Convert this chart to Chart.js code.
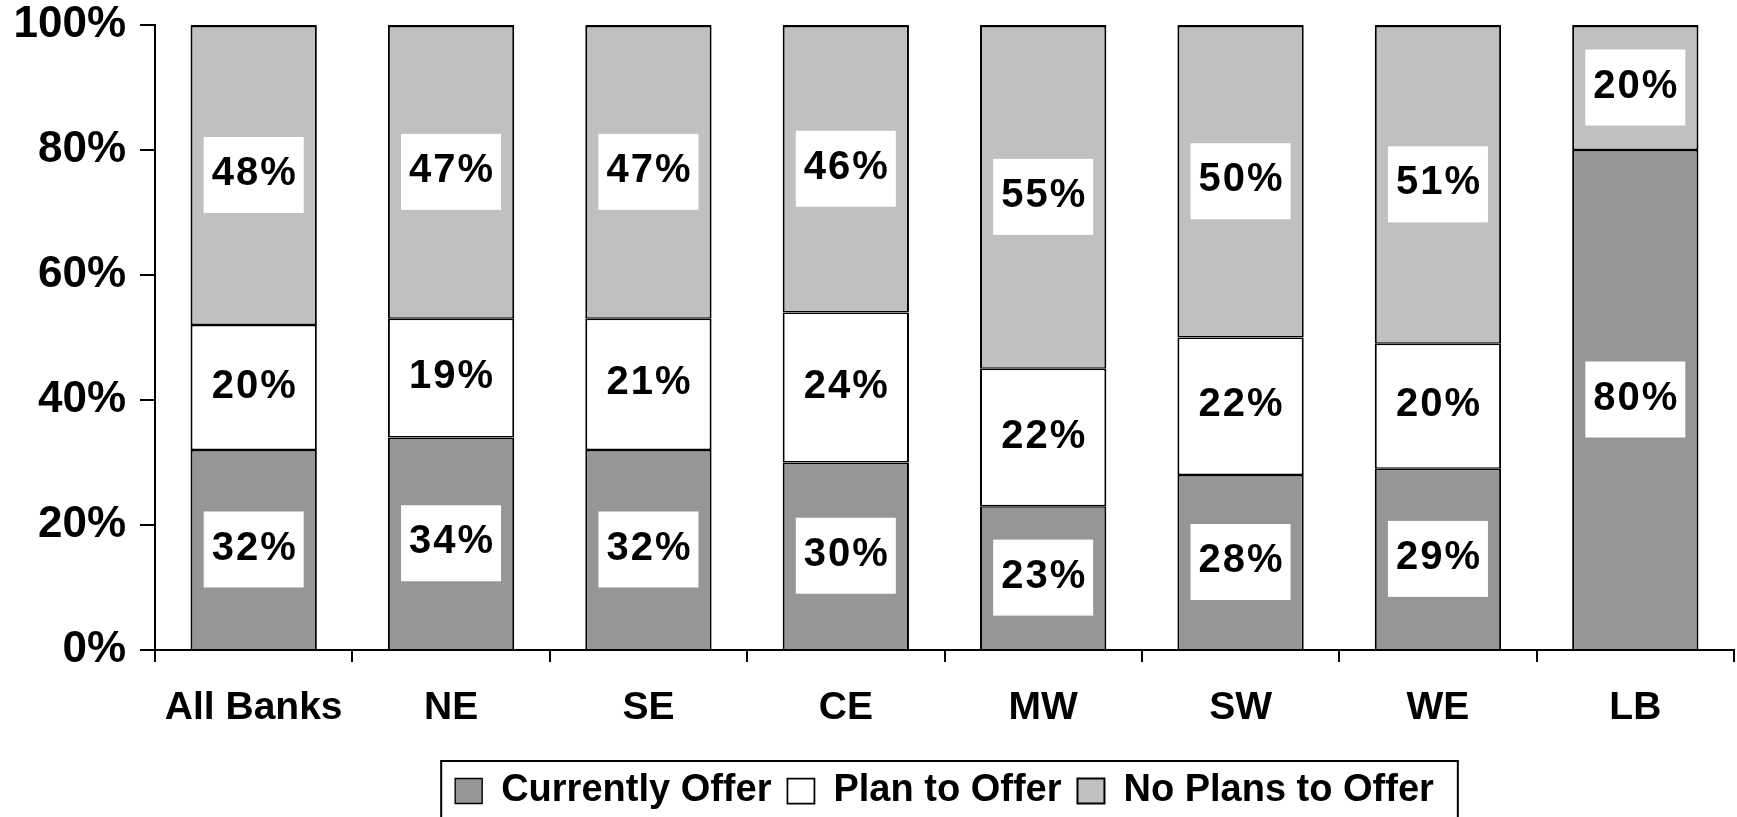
<!DOCTYPE html>
<html>
<head>
<meta charset="utf-8">
<script src="https://cdn.jsdelivr.net/npm/chart.js@4.4.1/dist/chart.umd.min.js"></script>
<style>
  body { margin: 0; background: #fff; }
</style>
</head>
<body>
<canvas id="grafico" width="1737" height="817"></canvas>
<script>
// datos
const regiones = ["All Banks", "NE", "SE", "CE", "MW", "SW", "WE", "LB"];
const ofrecenHoy = [32, 34, 32, 30, 23, 28, 29, 80];
const planean = [20, 19, 21, 24, 22, 22, 20, 0];
const sinPlanes = [48, 47, 47, 46, 55, 50, 51, 20];
const nombresSeries = ["Currently Offer", "Plan to Offer", "No Plans to Offer"];
const ticksY = [0, 20, 40, 60, 80, 100];

const fuente = "'Liberation Sans', Arial, sans-serif";

// cajitas blancas con el porcentaje
const etiquetas = {
    id: "etiquetas",
    afterDatasetsDraw(chart) {
        const ctx = chart.ctx;
        ctx.save();
        ctx.font = "bold 40px " + fuente;
        ctx.letterSpacing = "2px";
        ctx.textAlign = "center";
        ctx.textBaseline = "alphabetic";
        chart.data.datasets.forEach((ds, i) => {
            const meta = chart.getDatasetMeta(i);
            meta.data.forEach((bar, j) => {
                const v = ds.data[j];
                if (!v) return;
                const cy = (bar.y + bar.base) / 2;
                ctx.fillStyle = "#ffffff";
                ctx.fillRect(bar.x - 50, cy - 38, 100, 76);
                ctx.fillStyle = "#000000";
                ctx.fillText(v + "%", bar.x + 1, cy + 10);
            });
        });
        ctx.restore();
    }
};

// marco de la leyenda
const marcoLeyenda = {
    id: "marcoLeyenda",
    afterDraw(chart) {
        const cajas = chart.legend.legendHitBoxes;
        if (!cajas || !cajas.length) return;
        const izq = Math.min(...cajas.map(c => c.left));
        const der = Math.max(...cajas.map(c => c.left + c.width));
        const cy = cajas[0].top + cajas[0].height / 2;
        const ctx = chart.ctx;
        ctx.save();
        ctx.strokeStyle = "#000";
        ctx.lineWidth = 2;
        ctx.strokeRect(izq - 14, cy - 30, der - izq + 38, 80);
        ctx.restore();
    }
};

const borde = "#000000";
const ctx = document.getElementById("grafico").getContext("2d");

const myChart = new Chart(ctx, {
    type: "bar",
    data: {
        labels: regiones,
        datasets: [{
            label: nombresSeries[0],
            data: ofrecenHoy,
            backgroundColor: "#969696",
            borderColor: borde,
            borderWidth: { top: 1.5, bottom: 0, left: 2, right: 2 }
        }, {
            label: nombresSeries[1],
            data: planean,
            backgroundColor: "#ffffff",
            borderColor: borde,
            borderWidth: { top: 1.5, bottom: 1.5, left: 2, right: 2 }
        }, {
            label: nombresSeries[2],
            data: sinPlanes,
            backgroundColor: "#c0c0c0",
            borderColor: borde,
            borderWidth: { top: 2.5, bottom: 1.5, left: 2, right: 2 }
        }]
    },
    options: {
        responsive: false,
        animation: false,
        layout: { padding: { top: 25, right: 3, left: 0, bottom: -3 } },
        datasets: {
            bar: {
                categoryPercentage: 1,
                barPercentage: 0.64,
                borderSkipped: false
            }
        },
        scales: {
            x: {
                stacked: true,
                grid: {
                    offset: true,
                    drawOnChartArea: false,
                    tickLength: 12,
                    color: "#000",
                    lineWidth: 2
                },
                border: { display: true, color: "#000", width: 2 },
                ticks: {
                    color: "#000",
                    padding: 23,
                    maxRotation: 0,
                    font: { family: fuente, size: 39, weight: "bold" }
                },
                afterFit: (scale) => {
                    scale.height = 106;
                    scale.paddingLeft = 0;
                    scale.paddingRight = 0;
                }
            },
            y: {
                stacked: true,
                min: 0,
                max: 100,
                afterBuildTicks: (scale) => {
                    scale.ticks = ticksY.map(v => ({ value: v }));
                },
                grid: {
                    drawOnChartArea: false,
                    tickLength: 15,
                    color: "#000",
                    lineWidth: 2
                },
                border: { display: true, color: "#000", width: 2 },
                ticks: {
                    color: "#000",
                    padding: 14,
                    callback: (v) => v + "%",
                    font: { family: fuente, size: 44, weight: "bold" }
                },
                afterFit: (scale) => {
                    scale.width = 155;
                    scale.paddingTop = 0;
                    scale.paddingBottom = 0;
                }
            }
        },
        plugins: {
            tooltip: { enabled: false },
            legend: {
                position: "bottom",
                fullSize: false,
                labels: {
                    color: "#000",
                    boxWidth: 27,
                    boxHeight: 25,
                    padding: 16,
                    font: { family: fuente, size: 38, weight: "bold" }
                }
            }
        }
    },
    plugins: [etiquetas, marcoLeyenda]
});
</script>
</body>
</html>
